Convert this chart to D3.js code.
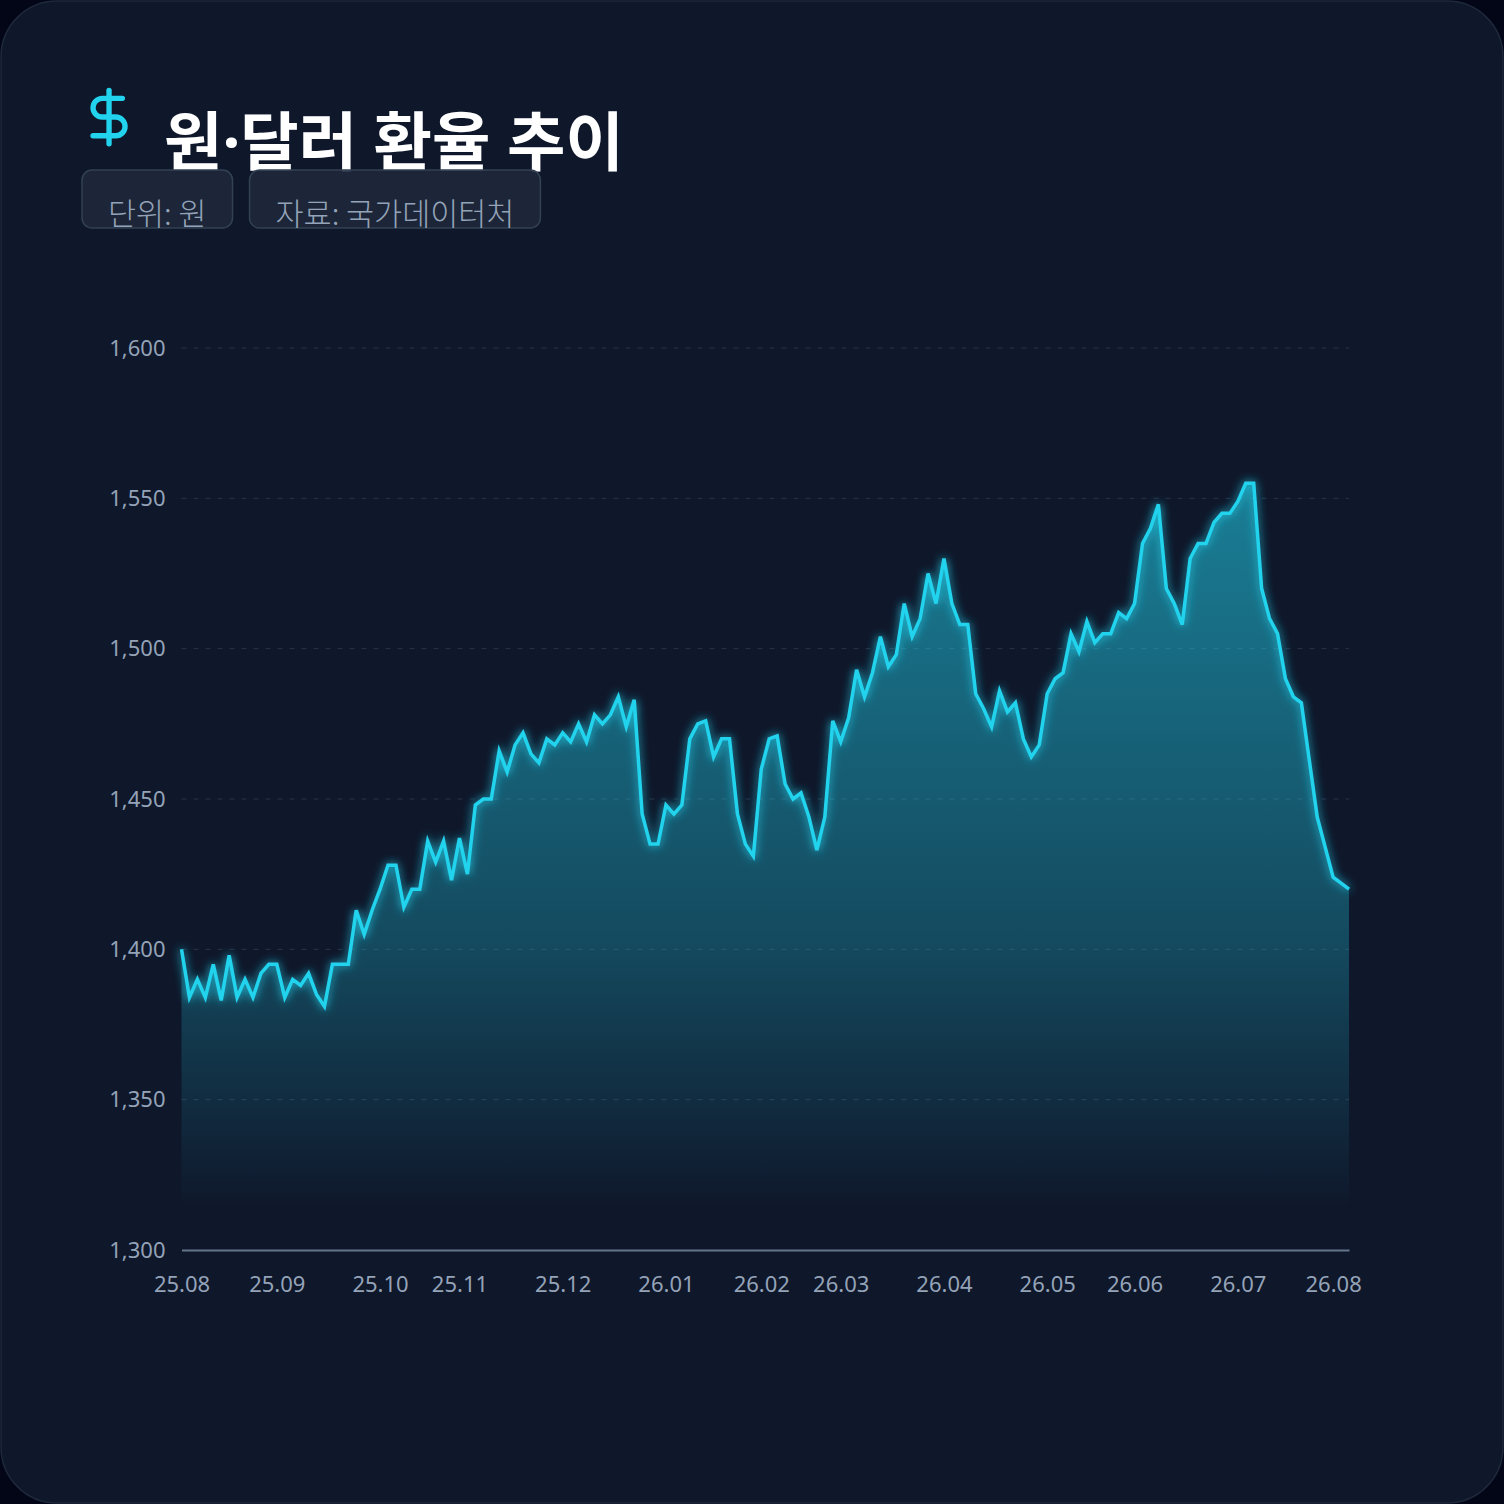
<!DOCTYPE html>
<html>
<head>
<meta charset="utf-8">
<script src="https://cdn.jsdelivr.net/npm/d3@7"></script>
<style>
	html, body {margin: 0; padding: 0; background: #020617;}
	svg {display: block;}
	text {font-family: 'Noto Sans', 'Noto Sans CJK KR', sans-serif;}
</style>
</head>
<body>
<div id="chart"></div>
<script>
// 원·달러 환율 (원), 관측 순서대로
var rates = [
	1400, 1384, 1390, 1384, 1395, 1383, 1398, 1384, 1390, 1384,
	1392, 1395, 1395, 1384, 1390, 1388, 1392, 1385, 1381, 1395,
	1395, 1395, 1413, 1405, 1413, 1420, 1428, 1428, 1414, 1420,
	1420, 1436, 1429, 1436, 1423, 1437, 1425, 1448, 1450, 1450,
	1466, 1459, 1468, 1472, 1465, 1462, 1470, 1468, 1472, 1469,
	1475, 1469, 1478, 1475, 1478, 1484, 1474, 1483, 1445, 1435,
	1435, 1448, 1445, 1448, 1470, 1475, 1476, 1464, 1470, 1470,
	1445, 1435, 1431, 1460, 1470, 1471, 1455, 1450, 1452, 1444,
	1433, 1444, 1476, 1469, 1477, 1493, 1484, 1492, 1504, 1494,
	1498, 1515, 1504, 1510, 1525, 1515, 1530, 1515, 1508, 1508,
	1485, 1480, 1474, 1486, 1479, 1482, 1470, 1464, 1468, 1485,
	1490, 1492, 1505, 1499, 1509, 1502, 1505, 1505, 1512, 1510,
	1515, 1535, 1540, 1548, 1520, 1515, 1508, 1530, 1535, 1535,
	1542, 1545, 1545, 1549, 1555, 1555, 1520, 1510, 1505, 1490,
	1484, 1482, 1463, 1444, 1434, 1424, 1422, 1420];

// 각 월의 첫 관측 위치
var monthIndex = [0, 12, 25, 35, 48, 61, 73, 83, 96, 109, 120, 133, 145];
var monthLabels = ['25.08', '25.09', '25.10', '25.11', '25.12', '26.01', '26.02',
	'26.03', '26.04', '26.05', '26.06', '26.07', '26.08'];

var rateTicks = [1300, 1350, 1400, 1450, 1500, 1550, 1600];
var title = '원·달러 환율 추이';
var badges = ['단위: 원', '자료: 국가데이터처'];

(function() {
	'use strict';

	var W = 1504, H = 1504;
	var plot = {left: 181.5, right: 1349, top: 348, bottom: 1250};
	var cyan = '#22d3ee';

	var svg = d3.select('#chart').append('svg')
		.attr('width', W)
		.attr('height', H);
	var defs = svg.append('defs');

	var grad = defs.append('linearGradient')
		.attr('id', 'areaFill')
		.attr('gradientUnits', 'userSpaceOnUse')
		.attr('x1', 0).attr('x2', 0);
	var glow = defs.append('filter')
		.attr('id', 'glow')
		.attr('x', '-10%').attr('y', '-10%')
		.attr('width', '120%').attr('height', '120%');
	glow.append('feGaussianBlur')
		.attr('in', 'SourceGraphic')
		.attr('stdDeviation', 5)
		.attr('result', 'blur');
	var merge = glow.append('feMerge');
	merge.append('feMergeNode').attr('in', 'blur');
	merge.append('feMergeNode').attr('in', 'SourceGraphic');

	// card
	svg.append('rect')
		.attr('x', 1).attr('y', 1)
		.attr('width', W - 2).attr('height', H - 2)
		.attr('rx', 56)
		.attr('fill', '#0f172a')
		.attr('stroke', '#1e293b')
		.attr('stroke-width', 1.5);

	// header
	var icon = svg.append('g')
		.attr('transform', 'translate(77,85) scale(2.67)')
		.attr('fill', 'none')
		.attr('stroke', cyan)
		.attr('stroke-width', 2)
		.attr('stroke-linecap', 'round')
		.attr('stroke-linejoin', 'round');
	icon.append('line').attr('x1', 12).attr('x2', 12).attr('y1', 2).attr('y2', 22);
	icon.append('path').attr('d', 'M17 5H9.5a3.5 3.5 0 0 0 0 7h5a3.5 3.5 0 0 1 0 7H6');

	svg.append('text')
		.attr('x', 164).attr('y', 165)
		.attr('fill', '#ffffff')
		.attr('font-size', 63.5)
		.attr('font-weight', 700)
		.text(title);

	var bx = 82;
	badges.forEach(function(label) {
		var g = svg.append('g');
		var r = g.append('rect')
			.attr('x', bx).attr('y', 170)
			.attr('height', 58)
			.attr('rx', 10)
			.attr('fill', '#1e293b')
			.attr('fill-opacity', 0.85)
			.attr('stroke', '#334155')
			.attr('stroke-width', 1.5);
		var t = g.append('text')
			.attr('x', bx + 26).attr('y', 225)
			.attr('fill', '#94a3b8')
			.attr('font-size', 30.5)
			.attr('font-weight', 300)
			.style('font-family', "'Noto Sans CJK KR', sans-serif")
			.text(label);
		var w = t.node().getComputedTextLength() + 52;
		r.attr('width', w);
		bx += w + 17;});

	// scales
	var x = d3.scaleLinear()
		.domain([0, rates.length - 1])
		.range([plot.left, plot.right]);
	var y = d3.scaleLinear()
		.domain([1300, 1600])
		.range([plot.bottom, plot.top]);

	grad.attr('y1', y(d3.max(rates))).attr('y2', y(1300));
	[[0, 0.55], [0.6, 0.27], [0.95, 0]].forEach(function(s) {
		grad.append('stop')
			.attr('offset', s[0])
			.attr('stop-color', cyan)
			.attr('stop-opacity', s[1]);});

	// grid
	svg.append('g').selectAll('line')
		.data(rateTicks.filter(function(v) {return v !== 1300;}))
		.join('line')
		.attr('x1', plot.left).attr('x2', plot.right)
		.attr('y1', function(v) {return y(v);})
		.attr('y2', function(v) {return y(v);})
		.attr('stroke', '#334155')
		.attr('stroke-opacity', 0.7)
		.attr('stroke-dasharray', '5,7');

	var yAxis = svg.append('g')
		.attr('transform', 'translate(' + plot.left + ',0)')
		.call(d3.axisLeft(y).tickValues(rateTicks).tickSize(0).tickPadding(16)
			.tickFormat(d3.format(',')));
	yAxis.select('.domain').remove();
	yAxis.selectAll('text')
		.attr('fill', '#94a3b8')
		.attr('font-size', 22)
		.attr('font-family', null);

	// area + line
	var area = d3.area()
		.x(function(d, i) {return x(i);})
		.y0(y(1300))
		.y1(function(d) {return y(d);});
	var line = d3.line()
		.x(function(d, i) {return x(i);})
		.y(function(d) {return y(d);});

	svg.append('path')
		.datum(rates)
		.attr('d', area)
		.attr('fill', 'url(#areaFill)');

	svg.append('path')
		.datum(rates)
		.attr('d', line)
		.attr('fill', 'none')
		.attr('stroke', cyan)
		.attr('stroke-width', 3.5)
		.attr('stroke-linejoin', 'miter')
		.attr('filter', 'url(#glow)');

	// x axis
	var xAxis = svg.append('g')
		.attr('transform', 'translate(0,' + plot.bottom + ')')
		.call(d3.axisBottom(x).tickValues(monthIndex).tickSize(0).tickPadding(26)
			.tickFormat(function(d) {return monthLabels[monthIndex.indexOf(d)];}));
	xAxis.select('.domain')
		.attr('stroke', '#64748b')
		.attr('stroke-width', 2);
	xAxis.selectAll('text')
		.attr('fill', '#94a3b8')
		.attr('font-size', 22)
		.attr('font-family', null);

})();
</script>
</body>
</html>
